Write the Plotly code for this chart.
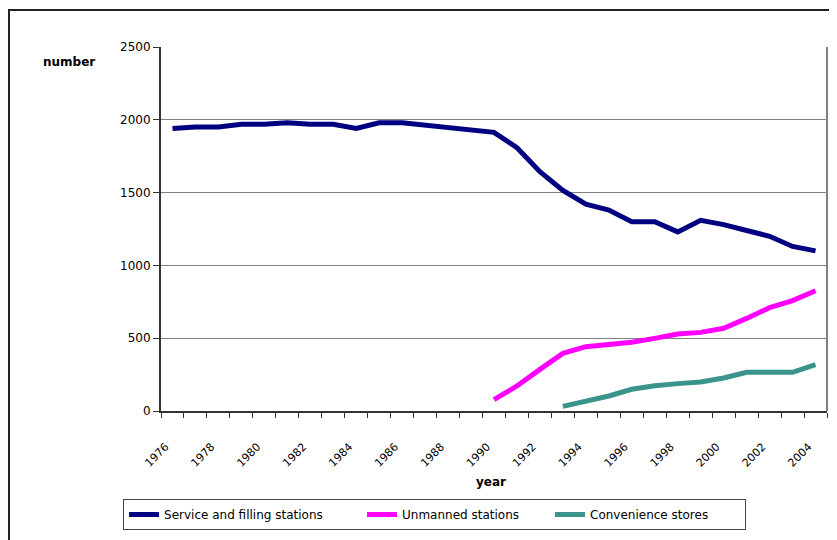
import plotly.graph_objects as go

years = list(range(1976, 2005))
service = [1940, 1950, 1950, 1970, 1970, 1980, 1970, 1970, 1940, 1980, 1980, 1965, 1950, 1937,
           1914, 1808, 1644, 1515, 1420, 1380, 1300, 1300, 1230, 1310, 1280, 1240, 1200, 1130, 1100]
unmanned_years = list(range(1990, 2005))
unmanned = [78, 172, 286, 396, 442, 456, 472, 499, 529, 540, 568, 636, 710, 758, 826]
conv_years = list(range(1993, 2005))
convenience = [32, 64, 103, 149, 174, 188, 199, 227, 266, 266, 266, 318]
tick_years = list(range(1976, 2005, 2))
y_ticks = [0, 500, 1000, 1500, 2000, 2500]

FONT = "DejaVu Sans, Arial, sans-serif"

fig = go.Figure()
fig.add_trace(go.Scatter(x=years, y=service, mode="lines", name="Service and filling stations",
                         line=dict(color="#000080", width=5), legendwidth=193))
fig.add_trace(go.Scatter(x=unmanned_years, y=unmanned, mode="lines", name="Unmanned stations",
                         line=dict(color="#FF00FF", width=5), legendwidth=143))
fig.add_trace(go.Scatter(x=conv_years, y=convenience, mode="lines", name="Convenience stores",
                         line=dict(color="#3A948C", width=5), legendwidth=150))

# page body has an 8px margin, so the figure is 8px smaller than the window
fig.update_layout(
    width=829, height=532,
    margin=dict(l=153, r=10, t=39, b=129),
    paper_bgcolor="white", plot_bgcolor="white",
    font=dict(family=FONT, size=12, color="black"),
    showlegend=True,
    legend=dict(orientation="h", x=-0.057, y=-0.2418, xanchor="left", yanchor="top",
                bordercolor="#444444", borderwidth=1, font=dict(size=12, family=FONT),
                itemwidth=30, tracegroupgap=0),
    xaxis=dict(range=[1975.5, 2004.5], tickvals=tick_years, ticktext=[str(y) for y in tick_years],
               tickangle=-45, tickfont=dict(size=11), ticks="", showgrid=False,
               ticklabelstandoff=23, ticklabelshift=-7,
               showline=True, linecolor="#333333", linewidth=2, zeroline=False,
               minor=dict(tickvals=[y - 0.5 for y in years] + [2004.5], ticks="outside",
                          ticklen=5, tickcolor="#333333", showgrid=False)),
    yaxis=dict(range=[0, 2500], tickvals=y_ticks, ticks="outside", ticklen=6, tickcolor="#333333",
               showgrid=True, gridcolor="#808080", gridwidth=1, showline=True,
               linecolor="#333333", linewidth=2, zeroline=False, tickfont=dict(size=12)),
)

# right plot border (grey)
fig.add_shape(type="line", xref="paper", yref="paper", x0=1, x1=1, y0=0, y1=1,
              line=dict(color="#808080", width=2))
# outer chart border
fig.add_shape(type="rect", xref="paper", yref="paper", x0=-0.2282, x1=1.05, y0=-0.4, y1=1.1016,
              line=dict(color="#222222", width=2), fillcolor="rgba(0,0,0,0)", layer="below")

fig.add_annotation(text="<b>number</b>", xref="paper", yref="paper", x=-0.138, y=0.959,
                   showarrow=False, font=dict(size=12, family=FONT), xanchor="center", yanchor="middle")
fig.add_annotation(text="<b>year</b>", xref="paper", yref="paper", x=0.4955, y=-0.195,
                   showarrow=False, font=dict(size=12, family=FONT), xanchor="center", yanchor="middle")

fig.write_html("out.html")
